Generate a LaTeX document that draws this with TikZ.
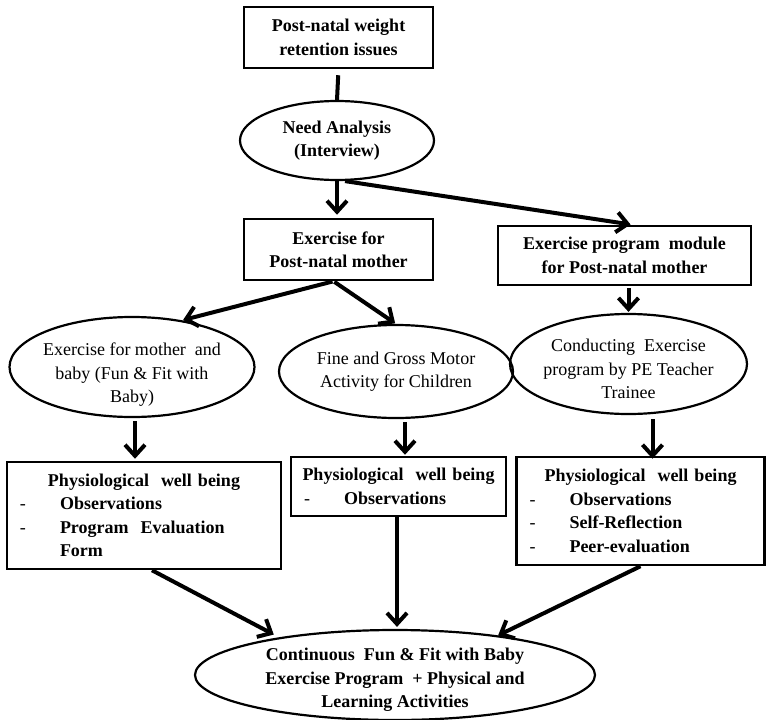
\documentclass[tikz,border=0pt]{standalone}
\usepackage{fontspec}
\setmainfont{Liberation Serif}
\usetikzlibrary{shapes.geometric,arrows.meta,calc}
\setlength{\parindent}{0pt}
\newcommand\pitem[1]{\hspace*{13pt}\makebox[40pt][l]{\mdseries -}#1\par}
\begin{document}
\begin{tikzpicture}[x=1pt,y=-1pt,
  base/.style={font=\fontsize{18}{23.5}\selectfont},
  box/.style={draw, rectangle, line width=2.5pt, inner sep=0pt, align=center,
    font=\fontsize{18}{23.5}\selectfont\bfseries},
  lbox/.style={draw, rectangle, line width=2.5pt, inner sep=0pt,
    font=\fontsize{18}{23.5}\selectfont\bfseries},
  oval/.style={draw, ellipse, line width=2.2pt, inner sep=0pt, align=center,
    font=\fontsize{18}{23.5}\selectfont},
  txt/.style={inner sep=0pt, align=center, font=\fontsize{18}{23.5}\selectfont},
  con/.style={line width=4pt},
  arr/.style={line width=4pt, -{Straight Barb[length=11pt,width=20pt]}}]
\useasboundingbox (0,0) rectangle (766,720);

% nodes
\node[box, minimum width=189pt, minimum height=61pt] (b1) at (338.5,37.5) {Post-natal weight\\retention issues};
\node[oval, minimum width=194pt, minimum height=79pt, font=\fontsize{18}{23.5}\selectfont\bfseries] (e1) at (337,140.5) {Need Analysis\\(Interview)};
\node[box, minimum width=189pt, minimum height=61pt] (b2) at (338.5,249.5) {Exercise for\\Post-natal mother};
\node[box, minimum width=253pt, minimum height=59pt] (b3) at (624.5,255.5) {Exercise program~ module\\for Post-natal mother};

\node[oval, minimum width=245pt, minimum height=100pt] (eA) at (132,367) {};
\node[txt] (eAt) at (132,375) {Exercise for mother~ and\\baby (Fun \& Fit with\\Baby)};
\node[oval, minimum width=234pt, minimum height=93pt] (eB) at (396,371.5) {Fine and Gross Motor\\Activity for Children};
\node[oval, minimum width=237pt, minimum height=100pt] (eC) at (628.5,364) {};
\node[txt] (eCt) at (628.5,369) {Conducting~ Exercise\\program by PE Teacher\\Trainee};

\node[lbox, minimum width=274pt, minimum height=107pt, text width=274pt] (b4) at (144,515.5)
  {{\centering Physiological~ well being\par}\raggedright
   \pitem{Observations}\pitem{Program~ Evaluation}\hspace*{53pt}Form\par};
\node[lbox, minimum width=215pt, minimum height=59pt, text width=215pt] (b5) at (398.5,486.5)
  {{\centering Physiological~ well being\par}\raggedright
   \pitem{Observations}};
\node[lbox, minimum width=248pt, minimum height=108pt, text width=248pt] (b6) at (640.5,511)
  {{\centering Physiological~ well being\par}\raggedright
   \pitem{Observations}\pitem{Self-Reflection}\pitem{Peer-evaluation}};

\node[oval, minimum width=400pt, minimum height=90pt] (bot) at (395,675) {};
\node[txt, font=\fontsize{18}{23.5}\selectfont\bfseries] (bott) at (395,680)
  {Continuous~ Fun \& Fit with Baby\\Exercise Program~ + Physical and\\Learning Activities};

% connectors
\draw[con, shorten <=6pt] (b1.south) -- (e1.north);
\draw[arr, shorten >=3pt] (e1.south) -- (e1.south |- b2.north);
\draw[arr, shorten >=2pt] ([xshift=8pt]e1.south) -- ([xshift=8pt]b3.north);
\draw[arr, shorten <=1pt, shorten >=1pt] ([xshift=-5pt]b2.south) -- (eA.43);
\draw[arr, shorten <=1pt, shorten >=1pt] ([xshift=-5pt]b2.south) -- (eB.north);
\draw[arr, shorten <=2pt, shorten >=1pt] (b3.south -| eC.north) -- (eC.north);
\draw[arr, shorten <=3pt, shorten >=2pt] ([xshift=3pt]eA.south) -- ([xshift=3pt]eA.south |- b4.north);
\draw[arr, shorten <=3pt, shorten >=1pt] ([xshift=9pt]eB.south) -- ([xshift=9pt]eB.south |- b5.north);
\draw[arr, shorten <=4pt, shorten >=-3pt] ([xshift=24pt]eC.south) -- ([xshift=24pt]eC.south |- b6.north);
\draw[arr, shorten >=6pt] ([xshift=8pt]b4.south) -- (bot.162);
\draw[arr, shorten >=2pt] ([xshift=-1.5pt]b5.south) -- ([xshift=-1.5pt]b5.south |- bot.north);
\draw[arr] (b6.south) -- (bot.21);
\end{tikzpicture}
\end{document}
